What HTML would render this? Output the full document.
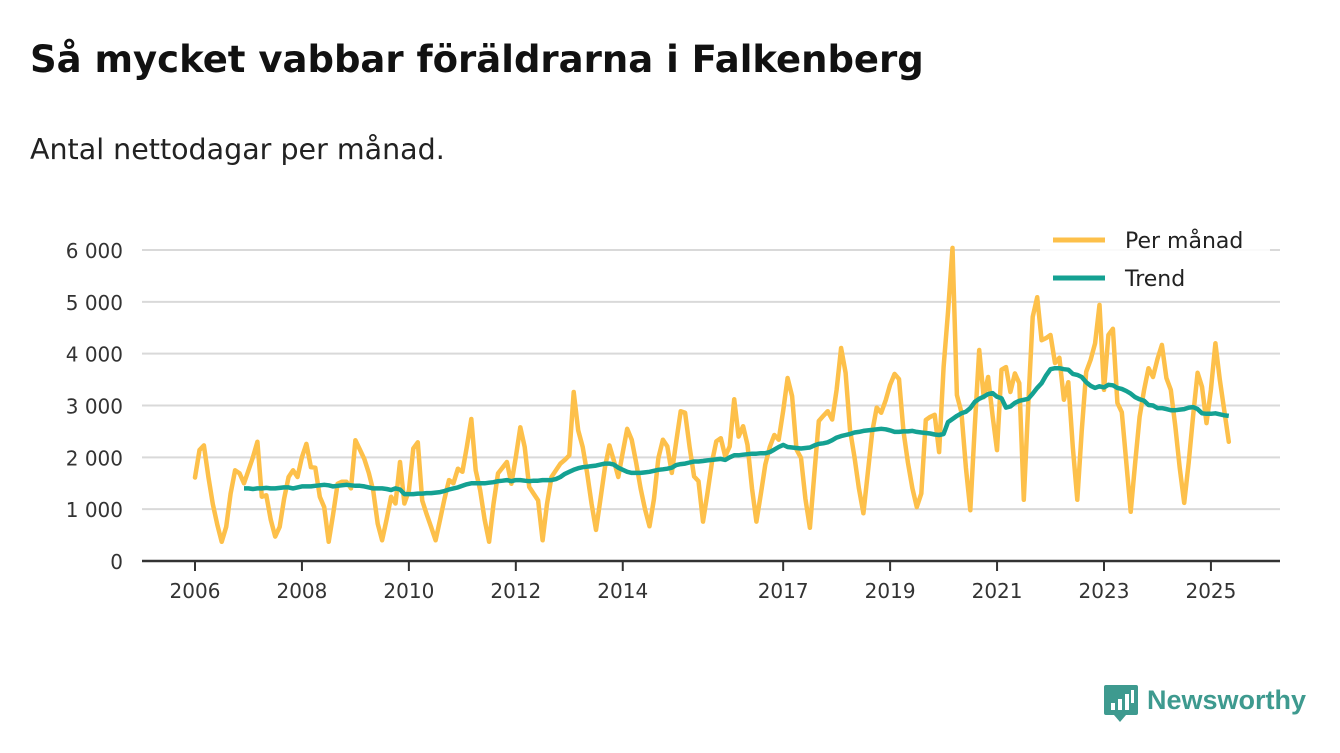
<!DOCTYPE html>
<html><head><meta charset="utf-8"><style>
body{margin:0;background:#fff;width:1340px;height:753px;overflow:hidden;font-family:"DejaVu Sans","Liberation Sans",sans-serif;}
h1{position:absolute;left:30px;top:38px;margin:0;font-size:37px;font-weight:bold;color:#111;}
.sub{position:absolute;left:30px;top:133px;font-size:28.5px;color:#222}
svg{position:absolute;left:0;top:0;font-family:"DejaVu Sans","Liberation Sans",sans-serif}
</style></head><body>
<h1>Så mycket vabbar föräldrarna i Falkenberg</h1>
<div class="sub">Antal nettodagar per månad.</div>
<svg id="chart" width="1340" height="753"></svg>
<script>
const yTicks=[0,1000,2000,3000,4000,5000,6000];
const yTickLabels=["0","1 000","2 000","3 000","4 000","5 000","6 000"];
const xTicks=[2006,2008,2010,2012,2014,2017,2019,2021,2023,2025];
const startYear=2006;
const monthly=[1610,2140,2230,1620,1100,700,370,660,1300,1750,1690,1500,
1750,2000,2300,1240,1270,800,470,660,1200,1620,1750,1620,
2000,2260,1810,1800,1240,1040,370,900,1490,1530,1530,1400,
2330,2150,1970,1700,1360,720,400,800,1240,1110,1910,1110,
1360,2170,2290,1170,900,650,400,800,1200,1560,1500,1780,
1720,2200,2740,1750,1360,800,370,1100,1690,1800,1910,1490,
2000,2580,2200,1430,1300,1170,400,1100,1620,1750,1880,1950,
2040,3260,2520,2200,1700,1100,600,1200,1800,2230,1940,1620,
2100,2550,2340,1900,1400,1000,670,1200,1990,2340,2210,1700,
2300,2890,2860,2200,1630,1540,760,1300,1900,2310,2370,2020,
2210,3120,2400,2600,2240,1400,760,1300,1860,2200,2430,2340,
2900,3530,3180,2150,1990,1200,640,1700,2700,2800,2890,2730,
3300,4110,3630,2530,2000,1400,920,1700,2500,2960,2860,3100,
3400,3610,3510,2500,1900,1400,1040,1300,2720,2780,2820,2100,
3740,4800,6040,3200,2870,1800,980,2600,4070,3160,3550,2800,
2140,3690,3740,3260,3620,3430,1180,3000,4710,5090,4260,4300,
4360,3820,3920,3110,3450,2200,1180,2500,3650,3880,4200,4940,
3300,4360,4480,3050,2870,1900,950,1900,2780,3300,3720,3550,
3900,4170,3530,3300,2600,1800,1120,1900,2800,3630,3360,2660,
3300,4200,3500,2900,2300];
const trendStart=11;
const trend=[1400,1400,1390,1400,1400,1410,1400,1400,1410,1420,1420,1400,
1420,1440,1440,1440,1450,1460,1470,1460,1440,1450,1460,1470,
1460,1450,1450,1440,1420,1400,1400,1400,1390,1370,1400,1380,
1290,1290,1290,1300,1300,1310,1310,1320,1330,1350,1380,1400,
1420,1450,1480,1500,1500,1500,1500,1510,1520,1540,1550,1560,
1540,1560,1560,1550,1540,1550,1550,1560,1560,1560,1580,1620,
1680,1720,1760,1790,1810,1820,1830,1840,1860,1880,1880,1860,
1800,1760,1720,1700,1700,1700,1710,1720,1740,1760,1770,1780,
1800,1850,1870,1880,1900,1920,1920,1930,1940,1950,1960,1970,
1950,2000,2040,2040,2050,2060,2070,2070,2080,2080,2100,2150,
2200,2240,2200,2190,2180,2170,2180,2190,2230,2260,2270,2290,
2330,2380,2410,2430,2450,2480,2490,2510,2520,2530,2540,2550,
2540,2520,2490,2490,2500,2500,2510,2490,2480,2470,2460,2440,
2430,2450,2680,2740,2800,2850,2880,2950,3070,3130,3170,3220,
3240,3170,3140,2960,2980,3050,3090,3110,3130,3230,3340,3430,
3580,3700,3720,3720,3700,3690,3610,3590,3550,3450,3380,3340,
3370,3350,3400,3390,3340,3320,3280,3230,3160,3120,3090,3010,
3000,2950,2950,2930,2910,2910,2920,2930,2960,2970,2930,2850,
2840,2840,2850,2830,2810,2800];

const NS="http://www.w3.org/2000/svg";
const svg=document.getElementById('chart');
const X=yr=>195+(yr-2006)*53.47;
const Y=v=>561-v*(311/6000);
const xm=i=>X(startYear+i/12);
function mk(t,a,p){const e=document.createElementNS(NS,t);for(const k in a)e.setAttribute(k,a[k]);(p||svg).appendChild(e);return e;}

yTicks.forEach((v,i)=>{
  if(v>0){const g=mk('line',{x1:142,x2:1280,y1:Y(v),y2:Y(v),stroke:'#d9d9d9','stroke-width':2});
  
  }
  const t=mk('text',{x:123,y:Y(v)+8,'text-anchor':'end','font-size':20,fill:'#333'});
  t.textContent=yTickLabels[i];
  
  
});
const ax=mk('line',{x1:142,x2:1280,y1:561,y2:561,stroke:'#333','stroke-width':2.5});


xTicks.forEach(yr=>{
  const tk=mk('line',{x1:X(yr),x2:X(yr),y1:561,y2:571,stroke:'#333','stroke-width':2});
  
  
  const t=mk('text',{x:X(yr),y:598,'text-anchor':'middle','font-size':20,fill:'#333'});
  t.textContent=yr;
  
  
});
const pm=mk('path',{d:monthly.map((v,i)=>(i?'L':'M')+xm(i).toFixed(1)+','+Y(v).toFixed(1)).join(''),fill:'none',stroke:'#fdc04a','stroke-width':4.5,'stroke-linejoin':'round','stroke-linecap':'round'});


const tr=mk('path',{d:trend.map((v,i)=>(i?'L':'M')+xm(i+trendStart).toFixed(1)+','+Y(v).toFixed(1)).join(''),fill:'none',stroke:'#14a192','stroke-width':4.5,'stroke-linejoin':'round'});



const lb=mk('rect',{x:1040,y:220,width:230,height:80,fill:'#fff','fill-opacity':0.85});


[['Per månad','#fdc04a',240],['Trend','#14a192',278]].forEach(([n,c,y])=>{
  const l=mk('line',{x1:1053,x2:1105,y1:y,y2:y,stroke:c,'stroke-width':5});
  
  
  const t=mk('text',{x:1125,y:y+8,'font-size':22,fill:'#222'});
  t.textContent=n;
  
  
});
const lg=mk('g',{});


mk('path',{d:'M1106,685 h30 a2,2 0 0 1 2,2 v26 a2,2 0 0 1 -2,2 h-10 l-6,7 l-6,-7 h-8 a2,2 0 0 1 -2,-2 v-26 a2,2 0 0 1 2,-2z',fill:'#3e9a8f'},lg);
mk('rect',{x:1111,y:703,width:4,height:7,fill:'#fff'},lg);
mk('rect',{x:1118,y:699,width:4,height:11,fill:'#fff'},lg);
mk('rect',{x:1125,y:694,width:4,height:16,fill:'#fff'},lg);
mk('rect',{x:1131,y:690,width:3,height:13,fill:'#fff'},lg);
const lt=mk('text',{x:1147,y:709,'font-size':27,'font-weight':'bold',fill:'#3e9a8f','font-family':'Liberation Sans, sans-serif'},lg);
lt.textContent='Newsworthy';
</script>
</body></html>
